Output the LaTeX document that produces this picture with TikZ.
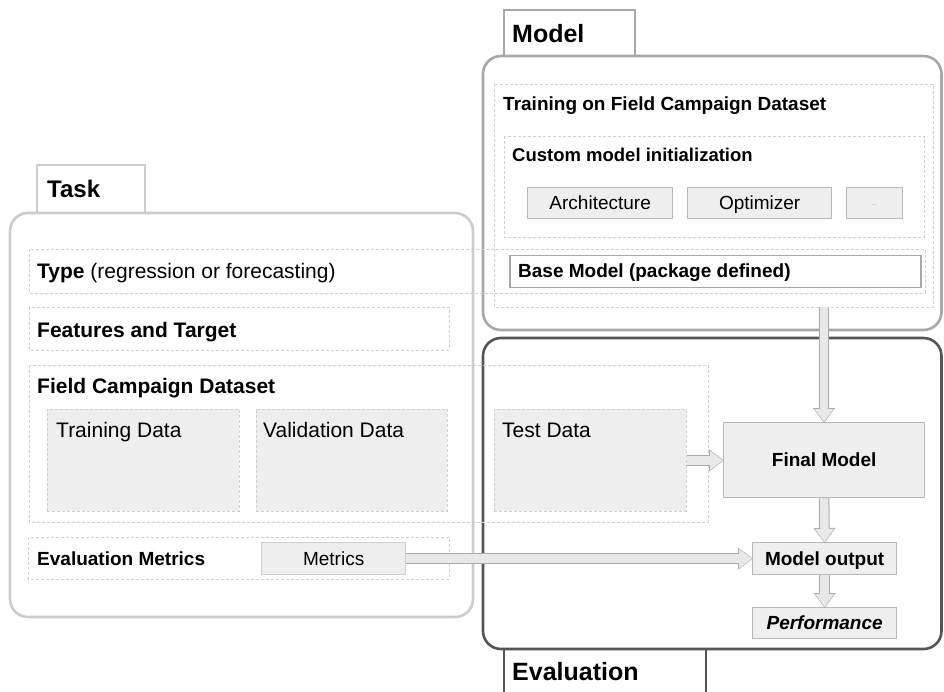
\documentclass[tikz,border=0pt]{standalone}
\usepackage{fontspec}
\setmainfont{Liberation Sans}
\usetikzlibrary{arrows.meta,positioning}

\definecolor{taskgray}{HTML}{CCCCCC}
\definecolor{modelgray}{HTML}{A8A8A8}
\definecolor{evalgray}{HTML}{555555}
\definecolor{dashgray}{HTML}{CFCFCF}
\definecolor{boxfill}{HTML}{EEEEEE}
\definecolor{boxline}{HTML}{B8B8B8}
\definecolor{arrfill}{HTML}{E8E8E8}
\definecolor{arrline}{HTML}{ABABAB}
\definecolor{arrlight}{HTML}{DCDCDC}

\newcommand{\fsz}[1]{\fontsize{#1}{#1}\selectfont}

\tikzset{
  grp/.style={rounded corners=18pt, line width=2.6pt},
  tabline/.style={line width=2.4pt},
  dbox/.style={draw=dashgray, line width=0.8pt, dash pattern=on 3pt off 2pt},
  databox/.style={dbox, fill=boxfill, anchor=north west, inner sep=0pt},
  gbox/.style={draw=boxline, fill=boxfill, line width=1.3pt, anchor=north west, inner sep=0pt,
    font=\fsz{19}, text height=13.7pt, text depth=0.3pt},
  lbl/.style={anchor=base west, inner sep=0pt, font=\fsz{21}},
  fat/.style={draw=arrfill, line width=8.5pt, -{Triangle[width=18pt,length=13pt]},
    preaction={draw=arrline, line width=10.5pt, -{Triangle[width=21pt,length=15pt]}, shorten >=-1pt}},
  fatlight/.style={fat, preaction={draw=arrlight}},
}

\begin{document}
\begin{tikzpicture}[x=1pt,y=-1pt]
\useasboundingbox (0,0) rectangle (944,692);

% Task
\draw[tabline, draw=taskgray, fill=white] (37,213) -- (37,165) -- (145,165) -- (145,213);
\node[lbl, font=\fsz{24}\bfseries] (tasklbl) at (47,198) {Task};
\draw[grp, draw=taskgray] (10,213) rectangle (473,617);

% Model
\draw[tabline, draw=modelgray, fill=white] (504,56) -- (504,10) -- (635,10) -- (635,56);
\node[lbl, font=\fsz{25}\bfseries] (modellbl) at (512,43) {Model};
\draw[grp, draw=modelgray] (483,56) rectangle (941.5,330);

% Evaluation
\draw[grp, draw=evalgray] (483,338) rectangle (941.5,649);
\draw[tabline, draw=evalgray] (504,649) -- (504,700);
\draw[tabline, draw=evalgray] (706,649) -- (706,700);
\node[lbl, font=\fsz{25}\bfseries] (evallbl) at (512,680) {Evaluation};

% task contents
\draw[dbox] (29,249) rectangle (925,293);
\node[lbl] (typelbl) at (37,279) {\textbf{Type} (regression or forecasting)};
\draw[dbox] (29,307) rectangle (449,350);
\node[lbl, font=\fsz{21}\bfseries] (featlbl) at (37,337) {Features and Target};
\draw[dbox] (29,365) rectangle (708,522);
\node[lbl, font=\fsz{21}\bfseries] (fcdlbl) at (37,393) {Field Campaign Dataset};
\node[databox, minimum width=192pt, minimum height=102pt] (train) at (47,409) {};
\node[lbl] (trainlbl) at (56,437) {Training Data};
\node[databox, minimum width=191pt, minimum height=102pt] (valid) at (256,409) {};
\node[lbl] (validlbl) at (263,437) {Validation Data};
\node[databox, minimum width=192pt, minimum height=102pt] (test) at (494,409) {};
\node[lbl] (testlbl) at (502,437) {Test Data};
\draw[dbox] (28,537) rectangle (449,579);
\node[lbl, font=\fsz{19}\bfseries] (evmlbl) at (37,565) {Evaluation Metrics};
\node[gbox, draw=dashgray, minimum width=144pt, minimum height=32pt] (metrics) at (261,542) {Metrics};

% model contents
\draw[dbox] (494,84) rectangle (933,307);
\node[lbl, font=\fsz{19}\bfseries] (trnlbl) at (503,111) {Training on Field Campaign Dataset};
\draw[dbox] (504,136) rectangle (924,237);
\node[lbl, font=\fsz{18.5}\bfseries] (custlbl) at (512,162) {Custom model initialization};
\node[gbox, minimum width=145pt, minimum height=31pt] (arch) at (527,187) {Architecture};
\node[gbox, minimum width=144pt, minimum height=31pt] (optim) at (687,187) {Optimizer};
\node[gbox, minimum width=56pt, minimum height=31pt, font=\fsz{6}, text height=4pt, text depth=0pt, text=gray] (more) at (846,187) {...};
\node[draw=modelgray, fill=white, line width=1.5pt, anchor=north west, minimum width=411pt, minimum height=32pt] (base) at (509,255) {};
\node[lbl, font=\fsz{19}\bfseries] (baselbl) at (518,278) {Base Model (package defined)};
\coordinate (drop) at (824,307);

% evaluation contents
\node[gbox, minimum width=201pt, minimum height=75pt, font=\fsz{19}\bfseries] (final) at (723,422) {Final Model};
\node[gbox, minimum width=144pt, minimum height=32pt, font=\fsz{19}\bfseries] (output) at (752,542) {Model output};
\node[gbox, minimum width=144pt, minimum height=31pt, font=\fsz{19}\bfseries\itshape] (perf) at (752,607) {Performance};

% arrows
\draw[fat] (drop) -- (drop |- final.north);
\draw[fat] (test.east) -- (test.east -| final.west);
\draw[fat] (final.south) -- (output.north);
\draw[fat] (output.south) -- (perf.north);
\draw[fatlight] (metrics.east) -- (metrics.east -| output.west);
\end{tikzpicture}
\end{document}
